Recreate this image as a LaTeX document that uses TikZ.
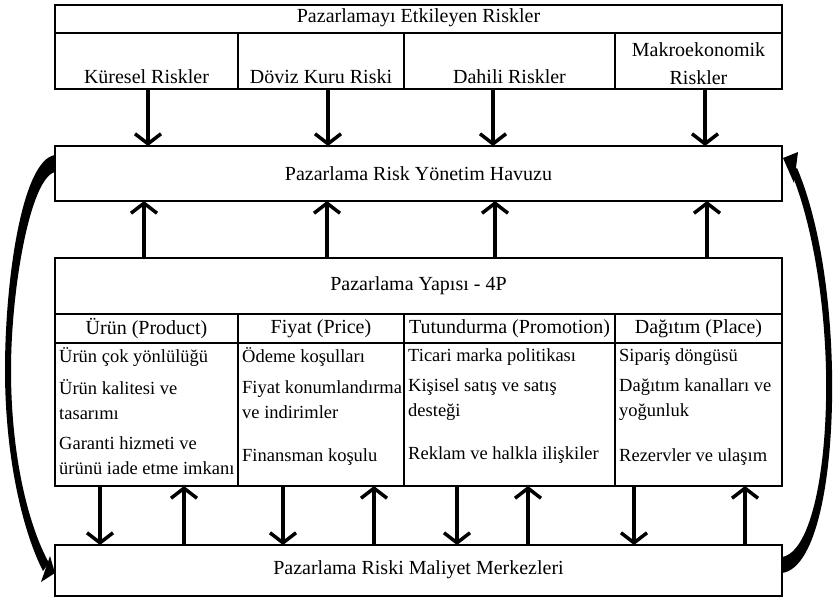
\documentclass[tikz,border=0pt]{standalone}
\usepackage{fontspec}
\setmainfont{Liberation Serif}
\usetikzlibrary{arrows.meta}
\begin{document}
\begin{tikzpicture}[x=1pt,y=-1pt,
  box/.style={draw,line width=1.5pt,inner sep=0pt,outer sep=0pt,anchor=north west},
  rule/.style={line width=1.5pt},
  hdr/.style={font=\fontsize{20}{28}\selectfont,inner sep=0pt,align=center},
  item/.style={font=\fontsize{18.5}{25}\selectfont,inner sep=0pt,anchor=west,align=left},
  arr/.style={line width=3.5pt,-{Straight Barb[length=10pt,width=26pt]}},
  curvefill/.style={fill=black,draw=none}]
\useasboundingbox (0,0) rectangle (833,598);

% boxes
\node[box,minimum width=727pt,minimum height=84pt] (risks) at (55,5) {};
\node[box,minimum width=727pt,minimum height=55pt] (pool) at (55,146) {};
\node[box,minimum width=727pt,minimum height=228pt] (mix) at (55,258) {};
\node[box,minimum width=727pt,minimum height=51pt] (cost) at (55,545) {};

% inner rules
\draw[rule] (55,33) -- (782,33);
\foreach \x in {238,404,615} \draw[rule] (\x,33) -- (\x,89);
\draw[rule] (55,314) -- (782,314);
\draw[rule] (55,343) -- (782,343);
\foreach \x in {238,404,615} \draw[rule] (\x,314) -- (\x,486);

% texts top
\node[hdr] (t0) at (418.5,18) {Pazarlamayı Etkileyen Riskler};
\node[hdr] (k1) at (146.5,77) {Küresel Riskler};
\node[hdr] (k2) at (321,77) {Döviz Kuru Riski};
\node[hdr] (k3) at (509.5,77) {Dahili Riskler};
\node[hdr] (k4) at (698.5,64) {Makroekonomik\\Riskler};

\node[hdr] (tp) at (418.5,174) {Pazarlama Risk Yönetim Havuzu};
\node[hdr] (tm) at (418.5,286) {Pazarlama Yapısı - 4P};
\node[hdr] (h1) at (146.5,329) {Ürün (Product)};
\node[hdr] (h2) at (321,329) {Fiyat (Price)};
\node[hdr] (h3) at (509.5,329) {Tutundurma (Promotion)};
\node[hdr] (h4) at (698.5,329) {Dağıtım (Place)};
\node[hdr] (tc) at (418.5,570) {Pazarlama Riski Maliyet Merkezleri};

% items
\node[item] (p1) at (59,357) {Ürün çok yönlülüğü};
\node[item] (p2) at (59,399.5) {Ürün kalitesi ve\\tasarımı};
\node[item] (p3) at (59,456) {Garanti hizmeti ve\\ürünü iade etme imkanı};
\node[item] (f1) at (242,357) {Ödeme koşulları};
\node[item] (f2) at (242,399.5) {Fiyat konumlandırma\\ve indirimler};
\node[item] (f3) at (242,457) {Finansman koşulu};
\node[item] (r1) at (408,357) {Ticari marka politikası};
\node[item] (r2) at (408,399.5) {Kişisel satış ve satış\\desteği};
\node[item] (r3) at (408,455) {Reklam ve halkla ilişkiler};
\node[item] (d1) at (619,357) {Sipariş döngüsü};
\node[item] (d2) at (619,399.5) {Dağıtım kanalları ve\\yoğunluk};
\node[item] (d3) at (619,457) {Rezervler ve ulaşım};

% straight arrows
\foreach \x [count=\i] in {148,328,493,705} {
  \coordinate (a\i) at (\x,89);
  \draw[arr] (a\i) -- (a\i |- pool.north);
}
\foreach \x [count=\i] in {144,327,495,707} {
  \coordinate (b\i) at (\x,258);
  \draw[arr] (b\i) -- (b\i |- pool.south);
}
\foreach \x [count=\i] in {100,283,457,634} {
  \coordinate (c\i) at (\x,486);
  \draw[arr] (c\i) -- (c\i |- cost.north);
}
\foreach \x [count=\i] in {184,374,528,745} {
  \coordinate (e\i) at (\x,545);
  \draw[arr] (e\i) -- (e\i |- mix.south);
}

% curved arrows
\fill[curvefill] (55,155) .. controls (22,160) and (5,280) .. (5,370)
  .. controls (5,455) and (22,530) .. (43,571)
  -- (49,563) .. controls (28,525) and (11,455) .. (11,370)
  .. controls (11,290) and (30,178) .. (55,172) -- cycle;
\fill[curvefill] (55,573) -- (41,582) -- (50,556) -- cycle;

\fill[curvefill] (782,573) .. controls (818,568) and (834,470) .. (832,370)
  .. controls (830,280) and (815,210) .. (797,168)
  -- (791,172) .. controls (808,212) and (824,285) .. (826,370)
  .. controls (828,465) and (812,552) .. (782,557) -- cycle;
\fill[curvefill] (783,158) -- (798,152) -- (794,183) -- cycle;
\end{tikzpicture}
\end{document}
